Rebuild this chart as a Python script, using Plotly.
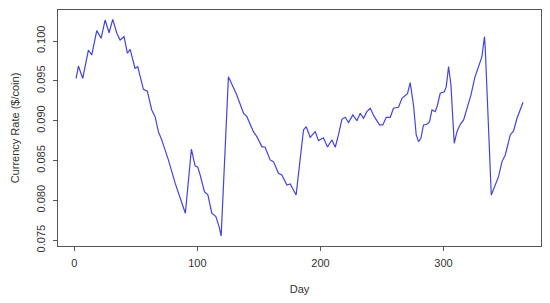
import plotly.graph_objects as go

# values
days = [1.4, 3.3, 6.8, 11.4, 14.1, 18.2, 21.7, 25.0, 28.2, 31.2, 34.5, 37.2, 40.4, 43.1, 45.3,
        49.3, 51.5, 56.1, 59.3, 62.9, 65.6, 68.3, 71.0, 76.4, 81.9, 85.9, 90.2, 95.1, 98.1,
        100.3, 102.2, 105.7, 108.5, 111.7, 115.0, 117.6, 119.3, 125.2, 132.0, 137.4, 140.2,
        145.5, 148.3, 152.4, 155.0, 159.1, 161.8, 165.9, 168.6, 172.7, 175.4, 180.2, 186.2,
        188.4, 191.6, 195.7, 198.4, 202.4, 205.7, 209.3, 212.0, 214.6, 217.4, 220.1, 222.8,
        226.3, 229.6, 232.3, 235.0, 237.7, 240.4, 243.7, 248.0, 250.7, 253.4, 256.7, 259.3,
        263.4, 266.2, 270.7, 272.9, 275.6, 277.8, 279.7, 281.6, 283.7, 286.5, 288.6, 290.6,
        293.3, 295.1, 297.3, 300.6, 302.2, 304.1, 306.0, 308.7, 310.9, 313.6, 316.3, 319.0,
        322.3, 325.4, 328.5, 331.2, 333.3, 333.9, 338.8, 341.2, 344.7, 347.5, 350.2, 354.2,
        356.9, 359.7, 362.4, 364.6]
rate = [0.09532, 0.09686, 0.09530, 0.09887, 0.09824, 0.10130, 0.10034, 0.10263, 0.10104,
        0.10272, 0.10097, 0.10013, 0.10054, 0.09846, 0.09896, 0.09658, 0.09678, 0.09394,
        0.09370, 0.09135, 0.09051, 0.08863, 0.08759, 0.08508, 0.08216, 0.08047, 0.07839,
        0.08642, 0.08433, 0.08416, 0.08320, 0.08110, 0.08069, 0.07839, 0.07797, 0.07671,
        0.07555, 0.09552, 0.09323, 0.09093, 0.09051, 0.08863, 0.08800, 0.08675, 0.08667,
        0.08508, 0.08487, 0.08341, 0.08320, 0.08194, 0.08207, 0.08069, 0.08884, 0.08925,
        0.08792, 0.08863, 0.08750, 0.08785, 0.08670, 0.08759, 0.08667, 0.08821, 0.09018,
        0.09043, 0.08976, 0.09072, 0.09001, 0.09093, 0.09031, 0.09113, 0.09156, 0.09051,
        0.08947, 0.08947, 0.09043, 0.09043, 0.09156, 0.09168, 0.09281, 0.09340, 0.09477,
        0.09197, 0.08821, 0.08737, 0.08780, 0.08947, 0.08955, 0.08988, 0.09135, 0.09113,
        0.09197, 0.09344, 0.09364, 0.09427, 0.09678, 0.09448, 0.08717, 0.08863, 0.08955,
        0.09009, 0.09156, 0.09323, 0.09540, 0.09678, 0.09803, 0.10054, 0.09908, 0.08069,
        0.08153, 0.08298, 0.08487, 0.08570, 0.08821, 0.08871, 0.09031, 0.09156, 0.09231]
x_ticks = [0, 100, 200, 300]
y_ticks = [0.075, 0.080, 0.085, 0.090, 0.095, 0.100]

fig = go.Figure()
fig.add_trace(go.Scatter(x=days, y=rate, mode="lines",
                         line=dict(color="#4444dd", width=1.2)))

axis_style = dict(showline=True, mirror=True, linecolor="#555", linewidth=1,
                  ticks="outside", ticklen=4, tickcolor="#555", showgrid=False,
                  zeroline=False, automargin=False,
                  tickfont=dict(size=11, color="#333"))

fig.update_layout(
    width=550, height=303,
    margin=dict(l=58, r=9, t=10, b=57),
    plot_bgcolor="white", paper_bgcolor="white",
    font=dict(family="Liberation Sans, Arial", size=11, color="#333"),
    showlegend=False,
    xaxis=dict(range=[-13.3, 379.2], tickvals=x_ticks, ticklabelstandoff=3,
               title=dict(text="Day", standoff=17, font=dict(size=11)), **axis_style),
    yaxis=dict(range=[0.07428, 0.10389], tickvals=y_ticks, tickformat=".3f",
               tickangle=-90, ticklabelstandoff=4,
               title=dict(text="Currency Rate ($/coin)", standoff=12, font=dict(size=11)),
               **axis_style),
)

# drop the browser's default page margin so the figure sits at the top-left corner
fig.write_html("out.html", config={"displayModeBar": False},
               post_script="document.body.style.margin='0';")
